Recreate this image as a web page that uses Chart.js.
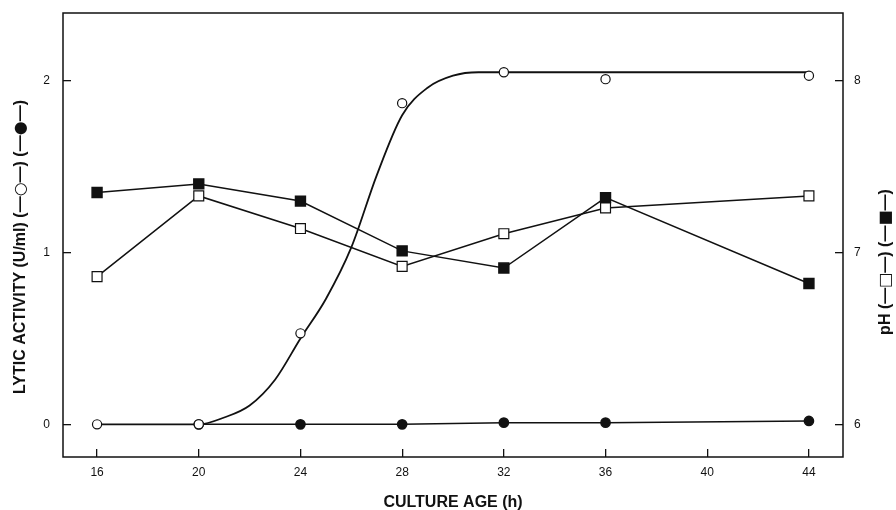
<!DOCTYPE html>
<html>
<head>
<meta charset="utf-8">
<title>Lytic activity and pH vs culture age</title>
<script src="https://cdn.jsdelivr.net/npm/chart.js@4.4.1/dist/chart.umd.min.js"></script>
<style>
  html, body { margin: 0; padding: 0; background: #fff; }
</style>
</head>
<body>
<canvas id="lysisChart" width="896" height="510"></canvas>
<script>
// values
const ages = [16, 20, 24, 28, 32, 36, 44];
const lyticOpen = [0, 0, 0.53, 1.87, 2.05, 2.01, 2.03];
const lyticFilled = [null, 0, 0, 0, 0.01, 0.01, 0.02];
const pHFilled = [7.35, 7.40, 7.30, 7.01, 6.91, 7.32, 6.82];
const pHOpen = [6.86, 7.33, 7.14, 6.92, 7.11, 7.26, 7.33];

// hand drawn smooth curve through the open circles
const fitAges = [16, 20, 21, 22, 23, 24, 25, 26, 27, 28, 29, 30, 31, 32, 44];
const fitLytic = [0, 0, 0.04, 0.11, 0.26, 0.5, 0.73, 1.03, 1.45, 1.8, 1.96, 2.03, 2.05, 2.05, 2.05];

const ageTicks = [16, 20, 24, 28, 32, 36, 40, 44];
const lyticTicks = [0, 1, 2];
const pHTicks = [6, 7, 8];

const ink = '#111';
const fontName = '"Liberation Sans", Arial, sans-serif';
const textFont = 'bold 16px ' + fontName;
const symFont = '16px "DejaVu Sans", sans-serif';

// axis titles as pieces: plain text and marker symbols
const leftTitle = [
  ['LYTIC ACTIVITY (U/ml) (\u2014', textFont], ['\u25CB', symFont], ['\u2014) (\u2014', textFont],
  ['\u25CF', symFont], ['\u2014)', textFont]
];
const rightTitle = [
  ['pH (\u2014', textFont], ['\u25A1', symFont], ['\u2014) (\u2014', textFont],
  ['\u25A0', symFont], ['\u2014)', textFont]
];

function toPoints(xs, ys) {
  return xs.map((x, i) => ({ x: x, y: ys[i] }));
}

function drawRich(ctx, pieces, x, y) {
  let total = 0;
  pieces.forEach(p => { ctx.font = p[1]; total += ctx.measureText(p[0]).width; });
  ctx.save();
  ctx.translate(x, y);
  ctx.rotate(-Math.PI / 2);
  ctx.textAlign = 'left';
  ctx.textBaseline = 'alphabetic';
  let pos = -total / 2;
  pieces.forEach(p => {
    ctx.font = p[1];
    ctx.fillText(p[0], pos, 0);
    pos += ctx.measureText(p[0]).width;
  });
  ctx.restore();
}

// closed frame + the two vertical titles (both read bottom-to-top)
const framePlugin = {
  id: 'frame',
  afterDraw(chart) {
    const { ctx, chartArea: a } = chart;
    ctx.save();
    ctx.strokeStyle = ink;
    ctx.lineWidth = 1.5;
    ctx.strokeRect(a.left, a.top, a.right - a.left, a.bottom - a.top);
    ctx.fillStyle = ink;
    drawRich(ctx, leftTitle, 25, 247);
    drawRich(ctx, rightTitle, 890, 262);
    ctx.restore();
  }
};

function setTicks(list) {
  return function (scale) {
    scale.ticks = list.map(v => ({ value: v }));
  };
}

function fixSize(w, h) {
  return function (s) {
    if (w) s.width = w;
    if (h) s.height = h;
    s.paddingTop = 0;
    s.paddingBottom = 0;
    s.paddingLeft = 0;
    s.paddingRight = 0;
  };
}

const grid = {
  drawOnChartArea: false,
  drawTicks: true,
  tickLength: -8,
  color: ink,
  lineWidth: 1.3
};

const ctx = document.getElementById('lysisChart').getContext('2d');
const chart = new Chart(ctx, {
  type: 'line',
  data: {
    datasets: [
      {
        label: 'Lytic activity (open)',
        data: toPoints(ages, lyticOpen),
        yAxisID: 'y',
        showLine: false,
        pointStyle: 'circle',
        pointRadius: 4.6,
        pointBackgroundColor: '#fff',
        pointBorderColor: ink,
        pointBorderWidth: 1.2
      },
      {
        label: 'Lytic activity fit',
        data: toPoints(fitAges, fitLytic),
        yAxisID: 'y',
        borderColor: ink,
        borderWidth: 1.8,
        pointRadius: 0,
        cubicInterpolationMode: 'monotone'
      },
      {
        label: 'Lytic activity (filled)',
        data: toPoints(ages, lyticFilled),
        yAxisID: 'y',
        borderColor: ink,
        borderWidth: 1.5,
        pointStyle: 'circle',
        pointRadius: 4.6,
        pointBackgroundColor: ink,
        pointBorderColor: ink
      },
      {
        label: 'pH (open)',
        data: toPoints(ages, pHOpen),
        yAxisID: 'y1',
        borderColor: ink,
        borderWidth: 1.5,
        pointStyle: 'rect',
        pointRadius: 7,
        pointBackgroundColor: '#fff',
        pointBorderColor: ink,
        pointBorderWidth: 1.2
      },
      {
        label: 'pH (filled)',
        data: toPoints(ages, pHFilled),
        yAxisID: 'y1',
        borderColor: ink,
        borderWidth: 1.5,
        pointStyle: 'rect',
        pointRadius: 7,
        pointBackgroundColor: ink,
        pointBorderColor: ink
      }
    ]
  },
  options: {
    responsive: false,
    animation: false,
    layout: { padding: { top: 13, left: 0, right: 0, bottom: 0 } },
    plugins: {
      legend: { display: false },
      tooltip: { enabled: false }
    },
    scales: {
      x: {
        type: 'linear',
        position: 'bottom',
        min: 14.66,
        max: 45.34,
        afterBuildTicks: setTicks(ageTicks),
        afterFit: fixSize(0, 53),
        grid: grid,
        border: { display: false },
        ticks: {
          color: ink,
          padding: 16,
          maxRotation: 0,
          font: { family: fontName, size: 12 }
        },
        title: {
          display: true,
          text: 'CULTURE AGE (h)',
          color: ink,
          padding: { top: 0, bottom: -2 },
          font: { family: fontName, size: 16, weight: 'bold' }
        }
      },
      y: {
        type: 'linear',
        position: 'left',
        min: -0.19,
        max: 2.395,
        afterBuildTicks: setTicks(lyticTicks),
        afterFit: fixSize(63, 0),
        grid: grid,
        border: { display: false },
        ticks: {
          color: ink,
          padding: 21,
          font: { family: fontName, size: 12 }
        }
      },
      y1: {
        type: 'linear',
        position: 'right',
        min: 5.81,
        max: 8.395,
        afterBuildTicks: setTicks(pHTicks),
        afterFit: fixSize(53, 0),
        grid: grid,
        border: { display: false },
        ticks: {
          color: ink,
          padding: 19,
          font: { family: fontName, size: 12 }
        }
      }
    }
  },
  plugins: [framePlugin]
});
</script>
</body>
</html>
